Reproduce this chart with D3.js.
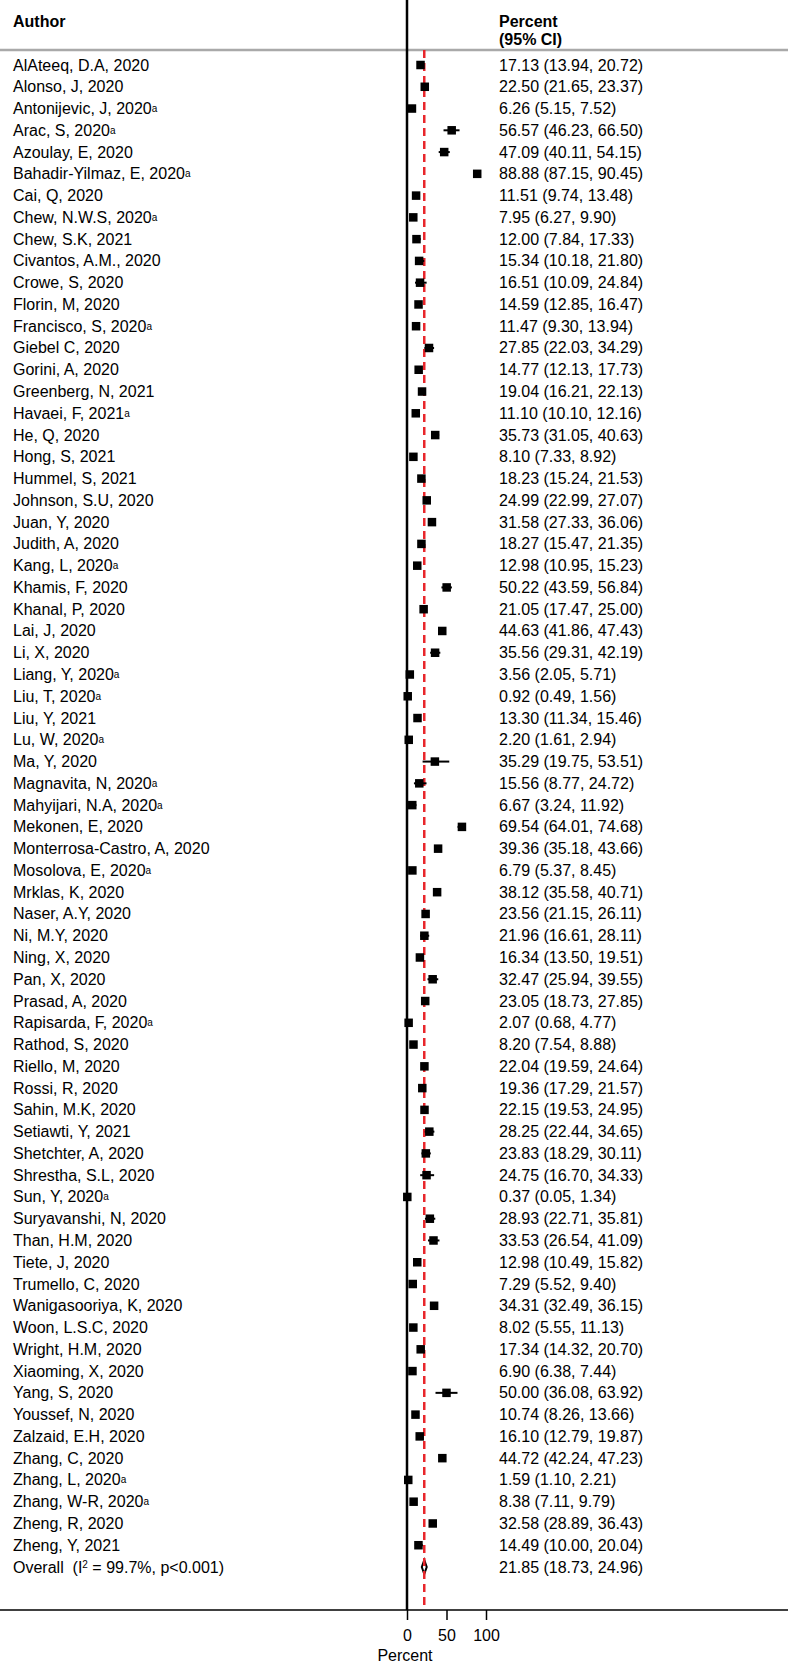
<!DOCTYPE html>
<html lang="en">

<head>
    <meta charset="UTF-8">
    <title>Forest plot</title>
    <script src="https://cdn.jsdelivr.net/npm/d3@7"></script>
    <style>
        * {
            font-family: 'Liberation Sans', Arial, sans-serif;
        }

        body {
            margin: 0;
            background: #ffffff;
        }

        text {
            white-space: pre;
        }
    </style>
</head>

<body>
    <div id="chart"></div>
    <script>

        const authors = [
            "AlAteeq, D.A, 2020", "Alonso, J, 2020", "Antonijevic, J, 2020", "Arac, S, 2020",
            "Azoulay, E, 2020", "Bahadir-Yilmaz, E, 2020", "Cai, Q, 2020", "Chew, N.W.S, 2020",
            "Chew, S.K, 2021", "Civantos, A.M., 2020", "Crowe, S, 2020", "Florin, M, 2020",
            "Francisco, S, 2020", "Giebel C, 2020", "Gorini, A, 2020", "Greenberg, N, 2021",
            "Havaei, F, 2021", "He, Q, 2020", "Hong, S, 2021", "Hummel, S, 2021",
            "Johnson, S.U, 2020", "Juan, Y, 2020", "Judith, A, 2020", "Kang, L, 2020",
            "Khamis, F, 2020", "Khanal, P, 2020", "Lai, J, 2020", "Li, X, 2020",
            "Liang, Y, 2020", "Liu, T, 2020", "Liu, Y, 2021", "Lu, W, 2020",
            "Ma, Y, 2020", "Magnavita, N, 2020", "Mahyijari, N.A, 2020", "Mekonen, E, 2020",
            "Monterrosa-Castro, A, 2020", "Mosolova, E, 2020", "Mrklas, K, 2020", "Naser, A.Y, 2020",
            "Ni, M.Y, 2020", "Ning, X, 2020", "Pan, X, 2020", "Prasad, A, 2020",
            "Rapisarda, F, 2020", "Rathod, S, 2020", "Riello, M, 2020", "Rossi, R, 2020",
            "Sahin, M.K, 2020", "Setiawti, Y, 2021", "Shetchter, A, 2020", "Shrestha, S.L, 2020",
            "Sun, Y, 2020", "Suryavanshi, N, 2020", "Than, H.M, 2020", "Tiete, J, 2020",
            "Trumello, C, 2020", "Wanigasooriya, K, 2020", "Woon, L.S.C, 2020", "Wright, H.M, 2020",
            "Xiaoming, X, 2020", "Yang, S, 2020", "Youssef, N, 2020", "Zalzaid, E.H, 2020",
            "Zhang, C, 2020", "Zhang, L, 2020", "Zhang, W-R, 2020", "Zheng, R, 2020",
            "Zheng, Y, 2021"
        ]

        // studies marked with superscript "a"
        const flagged = [
            "Antonijevic, J, 2020", "Arac, S, 2020", "Bahadir-Yilmaz, E, 2020", "Chew, N.W.S, 2020",
            "Francisco, S, 2020", "Havaei, F, 2021", "Kang, L, 2020", "Liang, Y, 2020",
            "Liu, T, 2020", "Lu, W, 2020", "Magnavita, N, 2020", "Mahyijari, N.A, 2020",
            "Mosolova, E, 2020", "Rapisarda, F, 2020", "Sun, Y, 2020", "Zhang, L, 2020",
            "Zhang, W-R, 2020"
        ]

        const estimate = [
            17.13, 22.50, 6.26, 56.57, 47.09, 88.88, 11.51, 7.95, 12.00, 15.34, 16.51, 14.59,
            11.47, 27.85, 14.77, 19.04, 11.10, 35.73, 8.10, 18.23, 24.99, 31.58, 18.27, 12.98,
            50.22, 21.05, 44.63, 35.56, 3.56, 0.92, 13.30, 2.20, 35.29, 15.56, 6.67, 69.54,
            39.36, 6.79, 38.12, 23.56, 21.96, 16.34, 32.47, 23.05, 2.07, 8.20, 22.04, 19.36,
            22.15, 28.25, 23.83, 24.75, 0.37, 28.93, 33.53, 12.98, 7.29, 34.31, 8.02, 17.34,
            6.90, 50.00, 10.74, 16.10, 44.72, 1.59, 8.38, 32.58, 14.49
        ]

        const lower = [
            13.94, 21.65, 5.15, 46.23, 40.11, 87.15, 9.74, 6.27, 7.84, 10.18, 10.09, 12.85,
            9.30, 22.03, 12.13, 16.21, 10.10, 31.05, 7.33, 15.24, 22.99, 27.33, 15.47, 10.95,
            43.59, 17.47, 41.86, 29.31, 2.05, 0.49, 11.34, 1.61, 19.75, 8.77, 3.24, 64.01,
            35.18, 5.37, 35.58, 21.15, 16.61, 13.50, 25.94, 18.73, 0.68, 7.54, 19.59, 17.29,
            19.53, 22.44, 18.29, 16.70, 0.05, 22.71, 26.54, 10.49, 5.52, 32.49, 5.55, 14.32,
            6.38, 36.08, 8.26, 12.79, 42.24, 1.10, 7.11, 28.89, 10.00
        ]

        const upper = [
            20.72, 23.37, 7.52, 66.50, 54.15, 90.45, 13.48, 9.90, 17.33, 21.80, 24.84, 16.47,
            13.94, 34.29, 17.73, 22.13, 12.16, 40.63, 8.92, 21.53, 27.07, 36.06, 21.35, 15.23,
            56.84, 25.00, 47.43, 42.19, 5.71, 1.56, 15.46, 2.94, 53.51, 24.72, 11.92, 74.68,
            43.66, 8.45, 40.71, 26.11, 28.11, 19.51, 39.55, 27.85, 4.77, 8.88, 24.64, 21.57,
            24.95, 34.65, 30.11, 34.33, 1.34, 35.81, 41.09, 15.82, 9.40, 36.15, 11.13, 20.70,
            7.44, 63.92, 13.66, 19.87, 47.23, 2.21, 9.79, 36.43, 20.04
        ]

        const overall = { est: 21.85, lo: 18.73, hi: 24.96 }
        const overallLabel = ["Overall  (I", "2", " = 99.7%, p<0.001)"]
        const xTicks = [0, 50, 100]

        const width = 788
        const height = 1667
        const axisY = 1610

        const svg = d3.select("#chart")
            .append("svg")
            .attr("width", width)
            .attr("height", height)

        const x = d3.scaleLinear()
            .domain([0, 100])
            .range([407, 486])

        const rowIds = d3.range(authors.length + 1)
        const y = d3.scalePoint()
            .domain(rowIds)
            .range([65, 1567])

        const fmt = d3.format(".2f")
        const ciText = (e, l, h) => `${fmt(e)} (${fmt(l)}, ${fmt(h)})`

        // header
        svg.append("text")
            .attr("x", 13).attr("y", 27)
            .attr("font-size", 16).attr("font-weight", "bold")
            .text("Author")
        svg.append("text")
            .attr("x", 499).attr("y", 27)
            .attr("font-size", 16).attr("font-weight", "bold")
            .text("Percent")
        svg.append("text")
            .attr("x", 499).attr("y", 45)
            .attr("font-size", 16).attr("font-weight", "bold")
            .text("(95% CI)")

        svg.append("line")
            .attr("x1", 0).attr("x2", width)
            .attr("y1", 50).attr("y2", 50)
            .attr("stroke", "#a9a9a9")
            .attr("stroke-width", 2.5)

        // null line
        svg.append("line")
            .attr("x1", x(0)).attr("x2", x(0))
            .attr("y1", 0).attr("y2", axisY)
            .attr("stroke", "#000")
            .attr("stroke-width", 2.5)

        // axis
        svg.append("line")
            .attr("x1", 0).attr("x2", width)
            .attr("y1", axisY).attr("y2", axisY)
            .attr("stroke", "#000")
            .attr("stroke-width", 1.5)

        const axis = svg.append("g")
            .attr("transform", `translate(0,${axisY})`)
            .call(d3.axisBottom(x).tickValues(xTicks).tickSize(10).tickPadding(10))
        axis.select(".domain").remove()
        axis.selectAll(".tick line").attr("stroke", "#000").attr("stroke-width", 1.5)
        axis.selectAll(".tick text")
            .attr("font-size", 16)
            .attr("font-family", "'Liberation Sans', Arial, sans-serif")
            .attr("fill", "#000")

        svg.append("text")
            .attr("x", 405).attr("y", 1661)
            .attr("text-anchor", "middle")
            .attr("font-size", 16)
            .text("Percent")

        // study labels
        const labels = svg.append("g")
            .selectAll("text")
            .data(authors)
            .enter().append("text")
            .attr("x", 13)
            .attr("y", (d, i) => y(i) + 5.5)
            .attr("font-size", 16)
            .text(d => d)
        labels.filter(d => flagged.includes(d))
            .append("tspan")
            .attr("font-size", 10)
            .attr("dy", -2)
            .text("a")

        const overallText = svg.append("text")
            .attr("x", 13)
            .attr("y", y(authors.length) + 5.5)
            .attr("font-size", 16)
        overallText.append("tspan").text(overallLabel[0])
        overallText.append("tspan").attr("font-size", 10).attr("dy", -5).text(overallLabel[1])
        overallText.append("tspan").attr("dy", 5).text(overallLabel[2])

        // estimate text column
        svg.append("g")
            .selectAll("text")
            .data(authors)
            .enter().append("text")
            .attr("x", 499)
            .attr("y", (d, i) => y(i) + 5.5)
            .attr("font-size", 16)
            .text((d, i) => ciText(estimate[i], lower[i], upper[i]))
        svg.append("text")
            .attr("x", 499)
            .attr("y", y(authors.length) + 5.5)
            .attr("font-size", 16)
            .text(ciText(overall.est, overall.lo, overall.hi))

        // overall diamond
        const yo = y(authors.length)
        svg.append("path")
            .attr("d", `M${x(overall.lo)},${yo} L${x(overall.est)},${yo - 7} L${x(overall.hi)},${yo} L${x(overall.est)},${yo + 7} Z`)
            .attr("fill", "#fff")
            .attr("stroke", "#000")
            .attr("stroke-width", 2)

        // pooled estimate line
        svg.append("line")
            .attr("x1", x(overall.est)).attr("x2", x(overall.est))
            .attr("y1", 50).attr("y2", axisY)
            .attr("stroke", "#e8262b")
            .attr("stroke-width", 2.5)
            .attr("stroke-dasharray", "8,5")

        // CI whiskers and squares
        const marks = svg.append("g")
        marks.selectAll("line")
            .data(authors)
            .enter().append("line")
            .attr("x1", (d, i) => x(lower[i]))
            .attr("x2", (d, i) => x(upper[i]))
            .attr("y1", (d, i) => y(i))
            .attr("y2", (d, i) => y(i))
            .attr("stroke", "#000")
            .attr("stroke-width", 2)

        const sq = 8.5
        marks.selectAll("rect")
            .data(authors)
            .enter().append("rect")
            .attr("x", (d, i) => x(estimate[i]) - sq / 2)
            .attr("y", (d, i) => y(i) - sq / 2)
            .attr("width", sq)
            .attr("height", sq)
            .attr("fill", "#000")
    </script>
</body>

</html>
